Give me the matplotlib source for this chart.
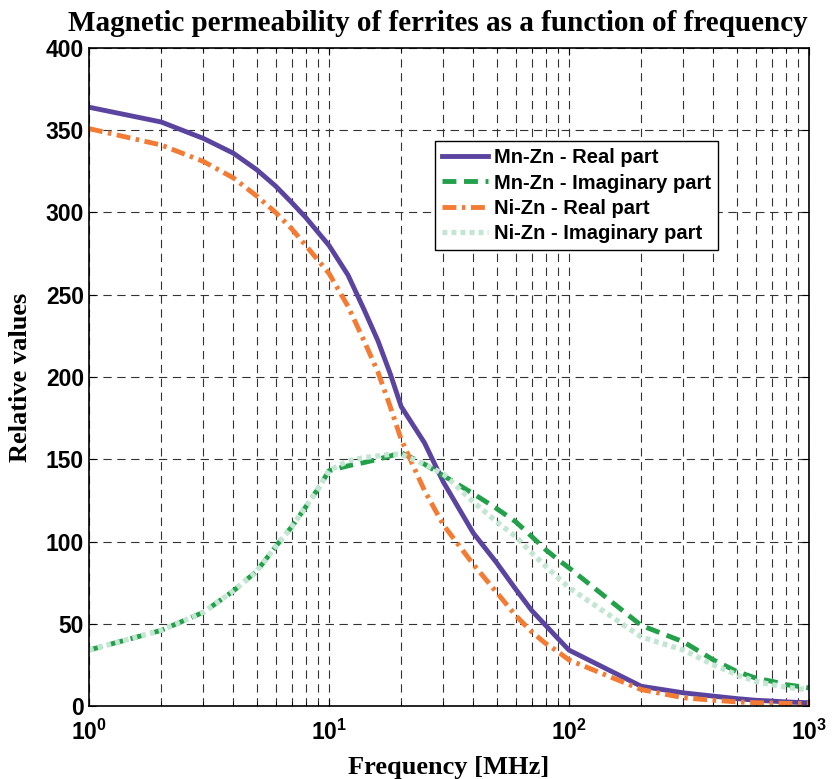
import matplotlib
matplotlib.use('Agg')
import matplotlib.pyplot as plt
from matplotlib.ticker import LogLocator, NullFormatter, MultipleLocator

# frequency points [MHz]
freq = [1, 2, 3, 4, 5, 6, 7, 8, 9, 10, 12, 14, 16, 18, 20, 25, 30, 40, 50,
        60, 70, 80, 90, 100, 200, 300, 400, 500, 600, 700, 800, 900, 1000]

mnzn_real = [364, 355, 345, 336, 326, 316, 306, 297, 288, 280, 262, 241, 222,
             202, 182, 160, 136, 105, 87, 71, 58, 49, 41, 34, 12, 8, 6, 4.5,
             3.5, 3, 2.5, 2.2, 2]
mnzn_imag = [34, 46, 57, 70, 82, 97, 109, 121, 132, 143, 146, 148, 150, 152,
             154, 147, 140, 129, 120, 112, 103, 95, 89, 84, 49, 39, 28, 21, 17,
             15, 13, 12, 11]
nizn_real = [351, 341, 331, 321, 310, 300, 290, 280, 271, 263, 243, 222, 203,
             182, 162, 131, 110, 86, 69, 55, 45, 38, 33, 28, 10, 5, 3.5, 2.5,
             2, 1.8, 1.6, 1.5, 1.5]
nizn_imag = [34, 46, 57, 70, 82, 97, 109, 121, 132, 143, 149, 151, 152, 153,
             153, 147, 141, 124, 112, 103, 93, 85, 78, 72, 42, 34, 25, 19, 15,
             13, 11.5, 10.5, 10]

plt.rcParams['lines.scale_dashes'] = False

fig = plt.figure(figsize=(8.37, 7.79), dpi=100)
ax = fig.add_axes([0.1063, 0.0937, 0.8602, 0.8447])

ax.plot(freq, mnzn_real, color='#5b44a0', lw=3.5, label='Mn-Zn - Real part')
ax.plot(freq, mnzn_imag, color='#23a04a', lw=3.5, dashes=(10, 5.5),
        label='Mn-Zn - Imaginary part')
ax.plot(freq, nizn_real, color='#f47b33', lw=3.5, dashes=(10, 4, 2.5, 4),
        label='Ni-Zn - Real part')
ax.plot(freq, nizn_imag, color='#c2e6d2', lw=3.8, dashes=(3.5, 3),
        dash_capstyle='butt', label='Ni-Zn - Imaginary part')

ax.set_xscale('log')
ax.set_xlim(1, 1000)
ax.set_ylim(0, 400)
ax.yaxis.set_major_locator(MultipleLocator(50))
ax.xaxis.set_minor_locator(LogLocator(base=10, subs=range(2, 10)))
ax.xaxis.set_minor_formatter(NullFormatter())

ax.grid(True, which='major', color='#333333', linestyle=(0, (6, 4)), lw=0.8)
ax.grid(True, which='minor', axis='x', color='#333333', linestyle=(0, (6, 4)), lw=0.8)

ax.tick_params(which='both', direction='in', top=True, right=True)
ax.tick_params(which='major', length=5, labelsize=16.5)
ax.tick_params(axis='x', which='major', pad=10)
ax.tick_params(axis='y', which='major', pad=3.5)
ax.tick_params(which='minor', length=3)
for lab in ax.get_xticklabels() + ax.get_yticklabels():
    lab.set_fontfamily('Liberation Sans')
    lab.set_fontweight('bold')
for sp in ax.spines.values():
    sp.set_linewidth(1.2)

ax.set_title('Magnetic permeability of ferrites as a function of frequency',
             fontfamily='Liberation Serif', fontweight='bold', fontsize=21,
             pad=12, x=0.484)
ax.set_xlabel('Frequency [MHz]', fontfamily='Liberation Serif',
              fontweight='bold', fontsize=19, labelpad=8)
ax.set_ylabel('Relative values', fontfamily='Liberation Serif',
              fontweight='bold', fontsize=19, labelpad=10)

leg = ax.legend(loc='upper left', bbox_to_anchor=(0.48, 0.858),
                prop={'family': 'Liberation Sans', 'weight': 'bold', 'size': 14.5},
                frameon=True, fancybox=False, framealpha=1, edgecolor='black',
                handlelength=2.3, handletextpad=0.3, labelspacing=0.3,
                borderpad=0.35, borderaxespad=0)
leg.get_frame().set_linewidth(1.0)

fig.savefig('out.png', dpi=100)
